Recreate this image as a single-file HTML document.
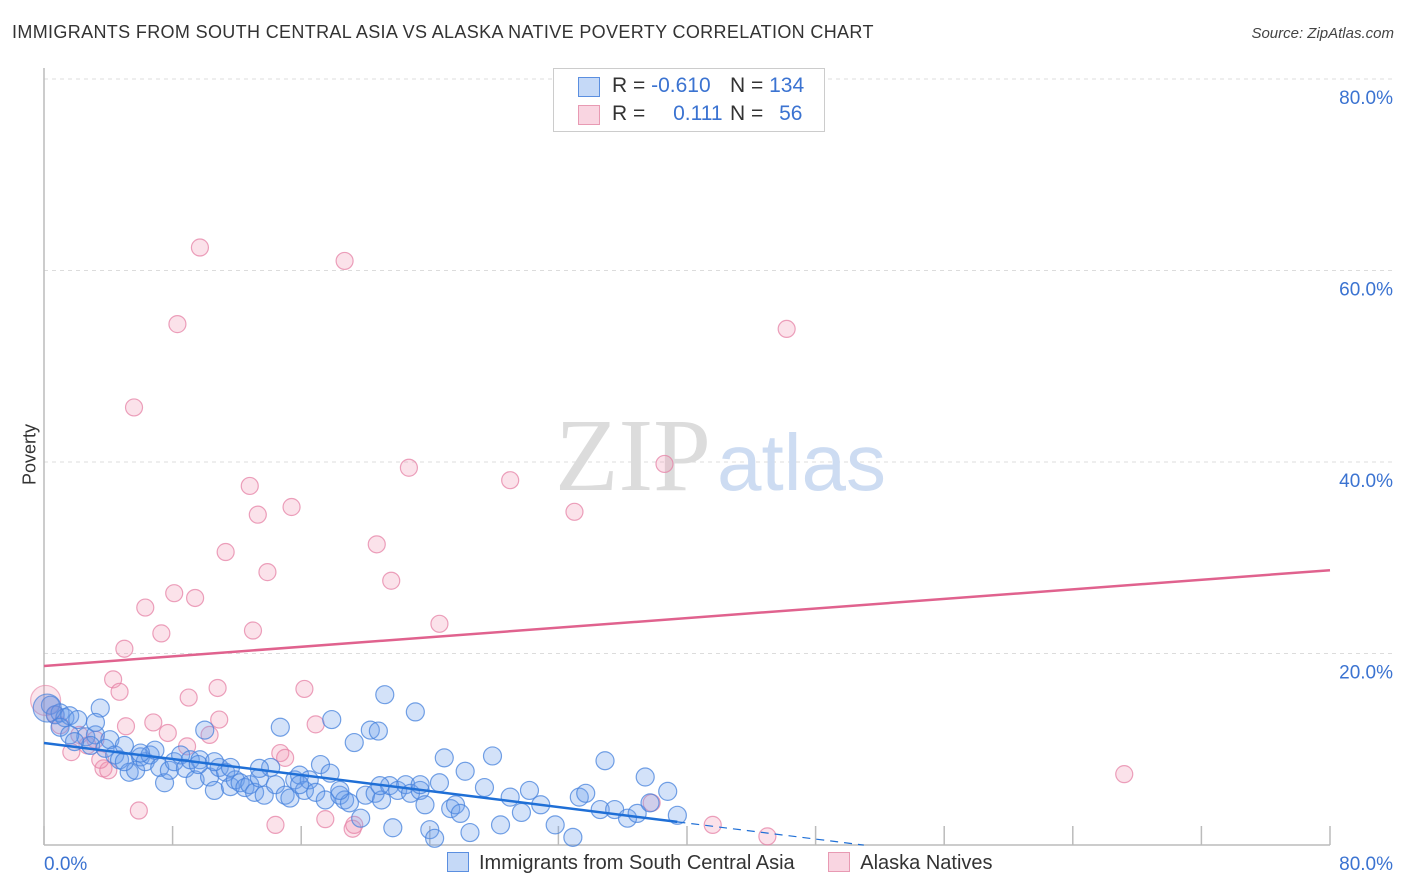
<!DOCTYPE html>
<html><head><meta charset="utf-8"><style>
body{margin:0;background:#fff;font-family:"Liberation Sans",sans-serif;}
#wrap{position:relative;width:1406px;height:892px;overflow:hidden;}
</style></head><body>
<div id="wrap">
<svg id="svg" width="1406" height="892"></svg>
</div>
<script>
const blueX=[0.4,0.7,1.0,1.3,1.6,2.1,3.5,2.6,3.2,2.9,3.8,4.1,4.4,4.7,5.0,5.3,5.7,6.0,6.3,6.6,6.9,7.2,7.5,7.8,8.1,8.5,8.8,9.1,9.4,9.7,10.0,10.3,10.6,10.9,11.3,11.6,11.9,12.2,12.5,12.8,13.1,13.4,13.7,14.1,14.4,14.7,15.0,15.3,15.6,15.9,16.2,16.5,16.9,17.2,17.5,17.8,17.9,18.4,18.7,19.0,19.3,19.7,20.0,20.3,20.6,20.8,21.0,21.2,21.5,21.7,22.0,22.5,22.8,23.1,23.4,23.7,24.0,24.3,24.6,24.9,25.3,25.6,25.9,26.2,26.5,27.4,27.9,28.4,29.0,29.7,30.2,30.9,31.8,32.9,33.3,33.7,34.6,34.9,35.5,36.3,36.9,37.4,37.7,38.8,39.4,1.0,1.6,1.9,3.2,5.0,6.0,9.6,10.6,11.6,13.4,15.9,18.4,20.9,23.4];
const blueY=[14.6,13.6,13.8,13.3,13.5,13.1,14.3,11.3,11.5,10.4,10.1,11.0,9.4,8.9,10.4,7.6,7.8,9.2,8.7,9.4,9.9,8.1,6.5,7.8,8.7,9.4,8.0,8.9,6.8,8.9,12.0,7.1,5.7,8.1,7.6,6.1,6.8,6.5,6.0,6.3,5.5,7.0,5.2,8.1,6.3,12.3,5.2,4.9,6.8,7.3,5.7,6.8,5.5,8.4,4.7,7.5,13.1,5.2,4.7,4.4,10.7,2.8,5.2,12.0,5.4,11.9,4.7,15.7,6.2,1.8,5.7,6.3,5.4,13.9,5.7,4.2,1.6,0.7,6.5,9.1,3.8,4.2,3.3,7.7,1.3,6.0,9.3,2.1,5.0,3.4,5.7,4.2,2.1,0.8,5.0,5.4,3.7,8.8,3.7,2.8,3.3,7.1,4.4,5.6,3.1,12.3,11.5,10.8,12.8,8.7,9.6,8.4,8.7,8.1,8.0,6.3,5.7,6.2,6.3];
const pinkX=[9.7,18.7,8.3,46.2,5.6,22.7,29.0,38.6,12.8,15.4,13.3,33.0,11.3,20.7,13.9,21.6,8.1,9.4,6.3,7.3,13.0,24.6,5.0,4.3,4.7,10.8,16.2,9.0,10.9,6.8,5.1,7.7,16.9,14.7,8.9,1.7,3.2,3.7,4.0,5.9,14.4,17.5,19.2,37.8,41.6,45.0,67.2,0.7,2.2,1.0,2.7,3.5,10.3,19.3,15.0];
const pinkY=[62.4,61.0,54.4,53.9,45.7,39.4,38.1,39.8,37.5,35.3,34.5,34.8,30.6,31.4,28.5,27.6,26.3,25.8,24.8,22.1,22.4,23.1,20.5,17.3,16.0,16.4,16.3,15.4,13.1,12.8,12.4,11.7,12.6,9.6,10.3,9.7,11.0,8.0,7.8,3.6,2.1,2.7,1.7,4.4,2.1,0.9,7.4,13.6,11.5,12.5,10.4,8.9,11.5,2.1,9.1];
const yTicks=[20,40,60,80];
const xTickVals=[0,8,16,24,32,40,48,56,64,72,80];
const blueTrend=[10.65,-0.209,39.4,51];
const pinkTrend=[18.7,0.125];

const svg=document.getElementById('svg');
const NS='http://www.w3.org/2000/svg';
const X0=44,X1=1330,Y0=845,Y1=79;
const sx=v=>X0+(v/80)*(X1-X0);
const sy=v=>Y0-(v/80)*(Y0-Y1);
function mk(tag,attrs,parent){const e=document.createElementNS(NS,tag);for(const k in attrs)e.setAttribute(k,attrs[k]);(parent||svg).appendChild(e);return e;}

yTicks.forEach(t=>{
  const g=mk('line',{x1:X0,x2:1395,y1:sy(t),y2:sy(t),stroke:'#dcdcdc','stroke-dasharray':'4,4'});
  
  
  const tx=mk('text',{x:1393,y:sy(t)+25,'text-anchor':'end','font-size':19,fill:'#3b73d1'});
  tx.textContent=t.toFixed(1)+'%';
  
  
});
const ax=mk('line',{x1:X0,x2:X1,y1:Y0,y2:Y0,stroke:'#bbb','stroke-width':1.5});

const ay=mk('line',{x1:X0,x2:X0,y1:68,y2:Y0,stroke:'#bbb','stroke-width':1.5});

xTickVals.forEach(t=>{
  const l=mk('line',{x1:sx(t),x2:sx(t),y1:826,y2:Y0,stroke:'#bbb','stroke-width':1.5});
  
  
});
const wm=mk('text',{x:555,y:490,'font-size':104,'font-family':'Liberation Serif, serif',fill:'#e0e0e0'});
wm.innerHTML='<tspan fill="#dcdcdc">ZIP</tspan><tspan fill="#cddcf2" font-family="Liberation Sans, sans-serif" font-size="80" dx="6">atlas</tspan>';


const gp=mk('g',{});
pinkX.forEach((x,i)=>{
  const c=mk('circle',{cx:sx(x),cy:sy(pinkY[i]),r:8.5,fill:'rgba(240,150,180,0.28)',stroke:'rgba(230,130,165,0.75)','stroke-width':1.2},gp);
  
  
});
const big=mk('circle',{cx:sx(0.1),cy:sy(15.1),r:15,fill:'rgba(240,150,180,0.25)',stroke:'rgba(230,130,165,0.6)','stroke-width':1.2},gp);

const gb=mk('g',{});
blueX.forEach((x,i)=>{
  const c=mk('circle',{cx:sx(x),cy:sy(blueY[i]),r:9,fill:'rgba(110,160,235,0.3)',stroke:'rgba(70,130,220,0.75)','stroke-width':1.2},gb);
  
  
});
const bb=mk('circle',{cx:sx(0.2),cy:sy(14.3),r:14,fill:'rgba(110,140,220,0.35)',stroke:'rgba(70,130,220,0.7)','stroke-width':1.2},gb);


const [b0,b1,bEnd,bDash]=blueTrend;
const bl=mk('line',{x1:sx(0),y1:sy(b0),x2:sx(bEnd),y2:sy(b0+b1*bEnd),stroke:'#1f6fd6','stroke-width':2.5});

const bd=mk('line',{x1:sx(bEnd),y1:sy(b0+b1*bEnd),x2:sx(bDash),y2:sy(b0+b1*bDash),stroke:'#1f6fd6','stroke-width':1.2,'stroke-dasharray':'8,6'});

const pl=mk('line',{x1:sx(0),y1:sy(pinkTrend[0]),x2:sx(80),y2:sy(pinkTrend[0]+pinkTrend[1]*80),stroke:'#e0628e','stroke-width':2.5});


const xl0=mk('text',{x:44,y:870,'font-size':19,fill:'#3b73d1'});xl0.textContent='0.0%';

const xl1=mk('text',{x:1393,y:870,'text-anchor':'end','font-size':19,fill:'#3b73d1'});xl1.textContent='80.0%';

</script>
<div style="position:absolute;left:12px;top:22px;font-size:18px;color:#333;letter-spacing:0.35px">IMMIGRANTS FROM SOUTH CENTRAL ASIA VS ALASKA NATIVE POVERTY CORRELATION CHART</div>
<div style="position:absolute;right:12px;top:25px;font-size:15px;color:#444;font-style:italic">Source: ZipAtlas.com</div>
<div style="position:absolute;left:-10px;top:444px;transform:rotate(-90deg);font-size:18px;color:#333;width:80px;text-align:center">Poverty</div>
<div style="position:absolute;left:553px;top:68px;width:270px;height:62px;border:1px solid #ccc;background:#fff;font-size:21px;color:#333">
 <div style="position:absolute;left:24px;top:8px;width:20px;height:18px;background:rgba(110,160,235,0.4);border:1px solid #5b8fe0"></div>
 <div style="position:absolute;left:58px;top:5px">R = <span style="color:#3b73d1">-0.610</span></div>
 <div style="position:absolute;left:176px;top:5px">N = <span style="color:#3b73d1">134</span></div>
 <div style="position:absolute;left:24px;top:36px;width:20px;height:18px;background:rgba(240,150,180,0.4);border:1px solid #e89ab3"></div>
 <div style="position:absolute;left:58px;top:33px">R = <span style="color:#3b73d1;margin-left:22px">0.111</span></div>
 <div style="position:absolute;left:176px;top:33px">N = <span style="color:#3b73d1;margin-left:10px">56</span></div>
</div>
<div style="position:absolute;top:852px;left:447px;font-size:20px;color:#333;white-space:nowrap">
 <span><span style="display:inline-block;width:20px;height:18px;background:rgba(110,160,235,0.4);border:1px solid #5b8fe0;vertical-align:-3px;margin-right:10px"></span>Immigrants from South Central Asia</span>
 <span style="margin-left:28px"><span style="display:inline-block;width:20px;height:18px;background:rgba(240,150,180,0.4);border:1px solid #e89ab3;vertical-align:-3px;margin-right:10px"></span>Alaska Natives</span>
</div>
</body></html>
